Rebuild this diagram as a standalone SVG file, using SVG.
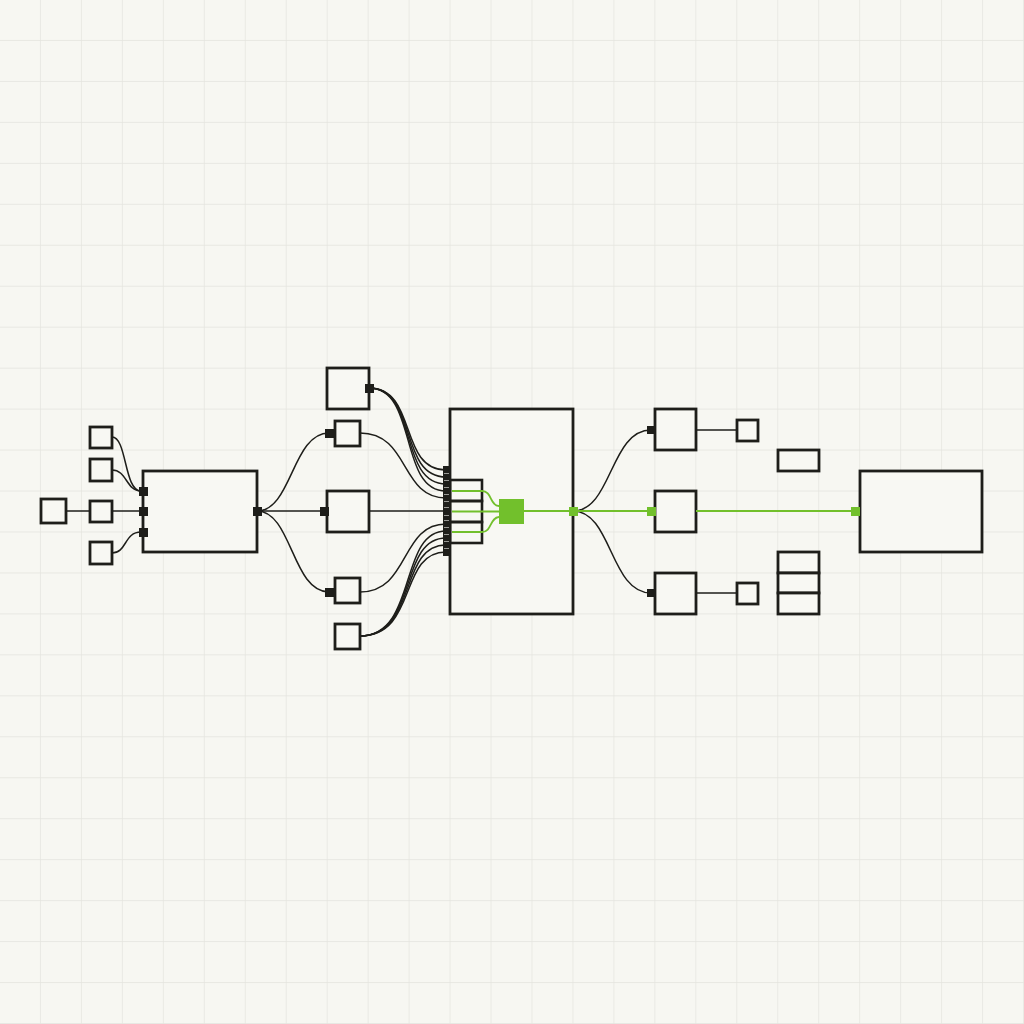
<svg xmlns="http://www.w3.org/2000/svg" width="1024" height="1024" viewBox="0 0 1024 1024">
<defs>
<pattern id="grid" width="40.96" height="40.96" patternUnits="userSpaceOnUse">
<path d="M40.96,0 V40.96 M0,40.96 H40.96" fill="none" stroke="#e4e4de" stroke-width="1.4"/>
</pattern>
</defs>
<style>
.box{fill:#f8f8f3;stroke:#1e1e1a;stroke-width:2.8}
.cell{fill:none;stroke:#1e1e1a;stroke-width:2.6}
.wire{fill:none;stroke:#1e1e1a;stroke-width:1.5}
.gwire{fill:none;stroke:#72c02c;stroke-width:1.8}
.port{fill:#1e1e1a}
.gport{fill:#72c02c}
</style>
<rect width="1024" height="1024" fill="#f7f7f2"/>
<rect width="1024" height="1024" fill="url(#grid)"/>

<g id="n-far-left"><rect class="box" x="41" y="499" width="25" height="24"/></g>
<g id="n-s1"><rect class="box" x="90" y="427" width="22" height="21"/></g>
<g id="n-s2"><rect class="box" x="90" y="459" width="22" height="22"/></g>
<g id="n-s3"><rect class="box" x="90" y="501" width="22" height="21"/></g>
<g id="n-s4"><rect class="box" x="90" y="542" width="22" height="22"/></g>
<g id="n-left-main">
<rect class="box" x="143" y="471" width="114" height="81"/>
</g>

<g id="n-m1"><rect class="box" x="327" y="368" width="42" height="41"/></g>
<g id="n-m2"><rect class="box" x="335" y="421" width="25" height="25"/></g>
<g id="n-m3"><rect class="box" x="327" y="491" width="42" height="41"/></g>
<g id="n-m4"><rect class="box" x="335" y="578" width="25" height="25"/></g>
<g id="n-m5"><rect class="box" x="335" y="624" width="25" height="25"/></g>

<g id="n-center">
<rect class="box" x="450" y="409" width="123" height="205"/>
<rect class="cell" x="450" y="480" width="32" height="21"/>
<rect class="cell" x="450" y="501" width="32" height="21"/>
<rect class="cell" x="450" y="522" width="32" height="21"/>
</g>

<g id="n-r1"><rect class="box" x="655" y="409" width="41" height="41"/></g>
<g id="n-r2"><rect class="box" x="655" y="491" width="41" height="41"/></g>
<g id="n-r3"><rect class="box" x="655" y="573" width="41" height="41"/></g>
<g id="n-rs1"><rect class="box" x="737" y="420" width="21" height="21"/></g>
<g id="n-rs2"><rect class="box" x="737" y="583" width="21" height="21"/></g>
<g id="n-rect"><rect class="box" x="778" y="450" width="41" height="21"/></g>
<g id="n-stack">
<rect class="box" x="778" y="552" width="41" height="21"/>
<rect class="box" x="778" y="573" width="41" height="20"/>
<rect class="box" x="778" y="593" width="41" height="21"/>
</g>
<g id="n-far-right"><rect class="box" x="860" y="471" width="122" height="81"/></g>

<g id="connectors">
<path class="wire" d="M66,511 H90"/>
<path class="wire" d="M112,437 C127,437 124,491 141,491"/>
<path class="wire" d="M112,470 C127,470 126,491 141,491"/>
<path class="wire" d="M112,511 H141"/>
<path class="wire" d="M112,553 C127,553 124,532 141,532"/>
<path class="wire" d="M257,511 C292,511 292,433 329,433"/>
<path class="wire" d="M257,511 H324"/>
<path class="wire" d="M257,511 C292,511 292,592 329,592"/>
<path class="wire" d="M369,388 C418,388 398,470 446,470"/>
<path class="wire" d="M369,388 C418,388 398,477 446,477"/>
<path class="wire" d="M369,388 C418,388 398,484 446,484"/>
<path class="wire" d="M369,388 C418,388 398,491 446,491"/>
<path class="wire" d="M360,433 C410,433 400,498 446,498"/>
<path class="wire" d="M369,511 H446"/>
<path class="wire" d="M360,592 C410,592 400,524 446,524"/>
<path class="wire" d="M360,636 C418,636 398,531 446,531"/>
<path class="wire" d="M360,636 C418,636 398,538 446,538"/>
<path class="wire" d="M360,636 C418,636 398,545 446,545"/>
<path class="wire" d="M360,636 C418,636 398,552 446,552"/>
<path class="gwire" d="M452,491 H482 C492,491 490,506 499,506"/>
<path class="gwire" d="M452,511.5 H499"/>
<path class="gwire" d="M452,532 H482 C492,532 490,517 499,517"/>
<path class="gwire" d="M524,511 H573"/>
<path class="wire" d="M573,511 C612,511 610,430 651,430"/>
<path class="wire" d="M573,511 C612,511 610,593 651,593"/>
<path class="gwire" d="M573,511 H651"/>
<path class="wire" d="M696,430 H737"/>
<path class="wire" d="M696,593 H737"/>
<path class="gwire" d="M696,511 H855"/>
</g>

<g id="ports">
<rect class="port" x="139" y="487" width="9" height="9"/>
<rect class="port" x="139" y="507" width="9" height="9"/>
<rect class="port" x="139" y="528" width="9" height="9"/>
<rect class="port" x="253" y="507" width="9" height="9"/>
<rect class="port" x="365" y="384" width="9" height="9"/>
<rect class="port" x="325" y="429" width="9" height="9"/>
<rect class="port" x="320" y="507" width="9" height="9"/>
<rect class="port" x="325" y="588" width="9" height="9"/>
<rect class="port" x="443" y="466" width="8" height="90"/>
<path d="M444,473.5 H449 M444,480.5 H449 M444,487.5 H449 M444,494.5 H449 M444,501.5 H449 M444,507.5 H449 M444,515.5 H449 M444,520.5 H449 M444,527.5 H449 M444,534.5 H449 M444,541.5 H449 M444,548.5 H449" stroke="#9a9a96" stroke-width="1.2"/>
<rect class="gport" x="499" y="499" width="25" height="25"/>
<rect class="gport" x="569" y="507" width="9" height="9"/>
<rect class="port" x="647" y="426" width="8" height="8"/>
<rect class="gport" x="647" y="507" width="9" height="9"/>
<rect class="port" x="647" y="589" width="8" height="8"/>
<rect class="gport" x="851" y="507" width="9" height="9"/>
</g>
</svg>
